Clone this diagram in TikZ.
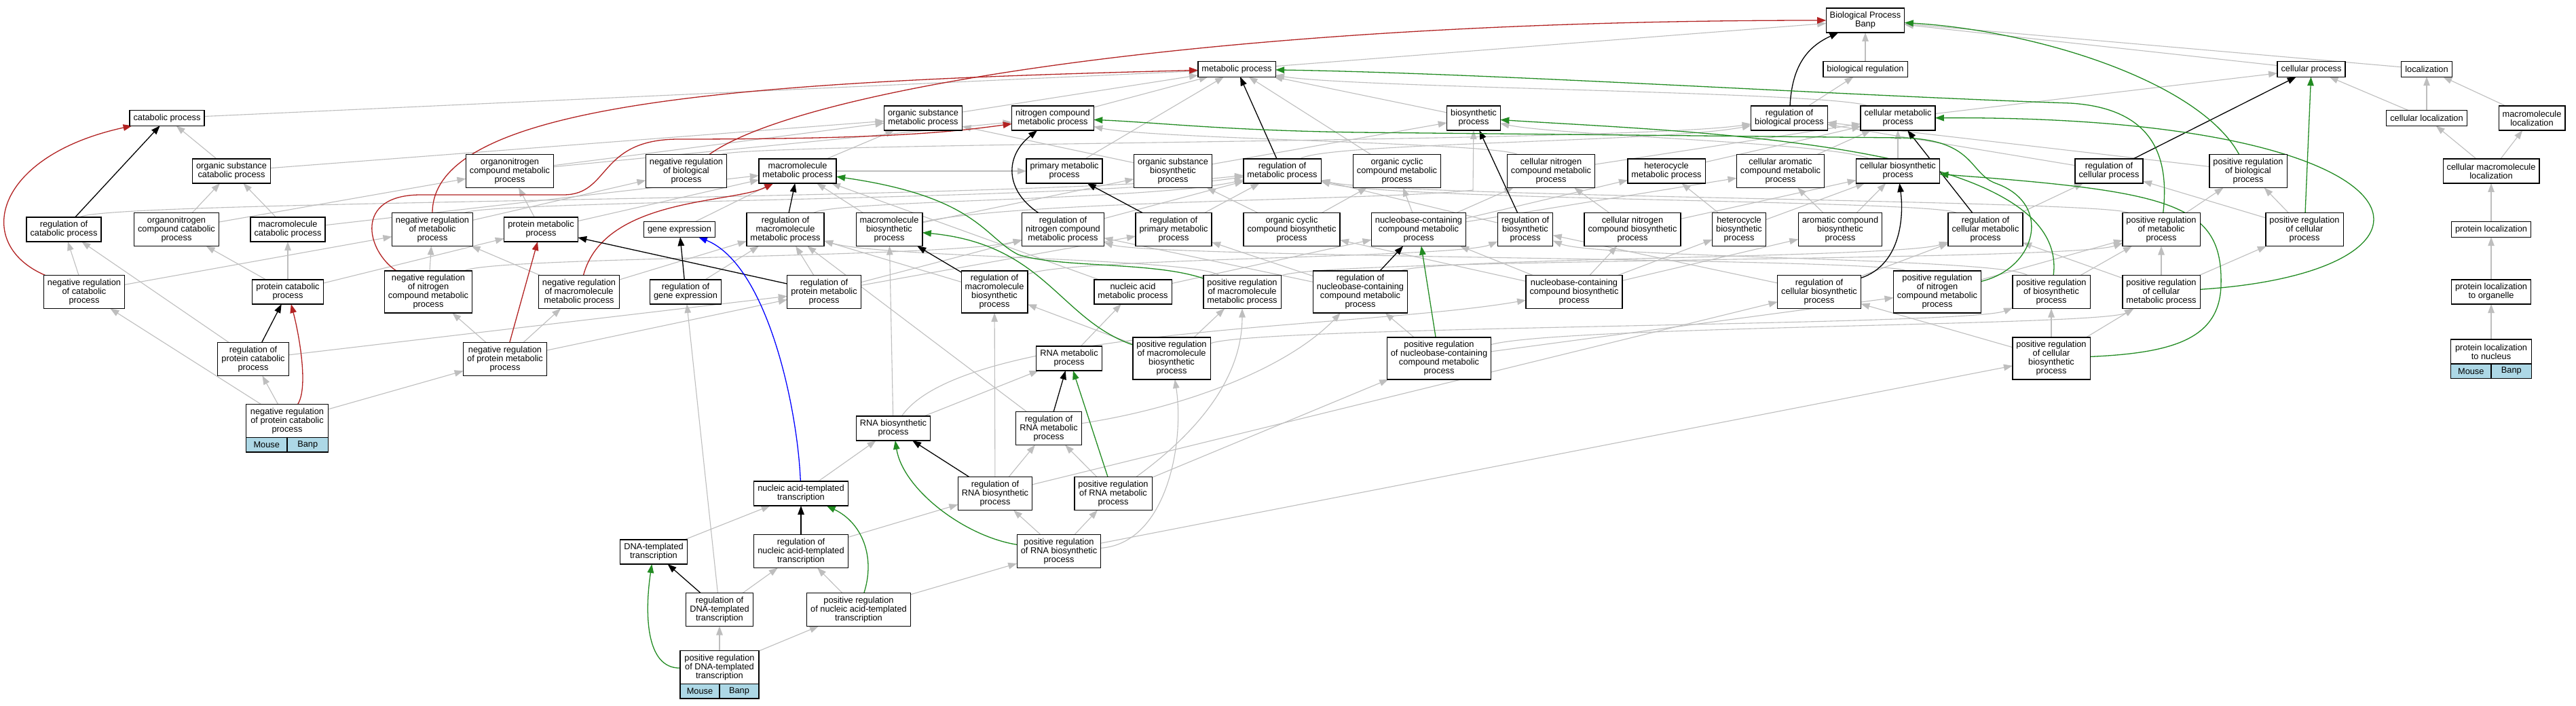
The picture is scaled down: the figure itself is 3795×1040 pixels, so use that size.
\documentclass[tikz,border=0pt]{standalone}
\usepackage{fontspec}
\setmainfont{Liberation Sans}
\usetikzlibrary{arrows.meta,backgrounds}
\definecolor{edgegray}{RGB}{190,190,190}
\definecolor{negred}{RGB}{178,34,34}
\definecolor{posgreen}{RGB}{34,139,34}
\definecolor{tagblue}{RGB}{173,216,230}
\tikzset{
  term/.style={draw, fill=white, line width=1.2pt, align=center, inner xsep=5.5pt, inner ysep=1pt, outer sep=0pt, font=\fontsize{12.8}{13}\selectfont},
  h1/.style={term, minimum height=22.5pt},
  h2/.style={term, minimum height=36pt},
  h3/.style={term, minimum height=49pt},
  h4/.style={term, minimum height=62pt},
  tag/.style={draw, fill=tagblue, line width=1.2pt, minimum height=21.5pt, inner sep=0pt, outer sep=0pt, font=\fontsize{12.8}{13}\selectfont},
  isa/.style={draw=edgegray, line width=1.1pt, -{Triangle[length=13pt,width=9.5pt]}},
  reg/.style={isa, draw=black, line width=1.3pt},
  negreg/.style={reg, draw=negred},
  posreg/.style={reg, draw=posgreen},
  partof/.style={reg, draw=blue}
}
\begin{document}
\begin{tikzpicture}[x=1pt,y=-1pt]
\useasboundingbox (0,0) rectangle (3795,1040);

\node[h2] (bp) at (2748,30) {Biological Process\\Banp};

\node[h1] (metabolic) at (1822,102) {metabolic process};
\node[h1] (bioreg) at (2748,102) {biological regulation};
\node[h1] (cellproc) at (3405,102) {cellular process};
\node[h1] (loc) at (3575,102) {localization};

\node[h1] (catab) at (246,174) {catabolic process};
\node[h2] (orgsubmet) at (1360,174) {organic substance\\metabolic process};
\node[h2] (nitmet) at (1551,174) {nitrogen compound\\metabolic process};
\node[h2] (biosyn) at (2171,174) {biosynthetic\\process};
\node[h2] (regbio) at (2636,174) {regulation of\\biological process};
\node[h2] (cellmet) at (2796,174) {cellular metabolic\\process};
\node[h1] (cellloc) at (3575,174) {cellular localization};
\node[h2] (macroloc) at (3730,174) {macromolecule\\localization};

\node[h2] (orgsubcat) at (341,252) {organic substance\\catabolic process};
\node[h3] (orgnitmet) at (751,252) {organonitrogen\\compound metabolic\\process};
\node[h3] (negregbio) at (1011,252) {negative regulation\\of biological\\process};
\node[h2] (macromet) at (1175,252) {macromolecule\\metabolic process};
\node[h2] (primmet) at (1568,252) {primary metabolic\\process};
\node[h3] (orgsubbio) at (1728,252) {organic substance\\biosynthetic\\process};
\node[h2] (regmet) at (1889,252) {regulation of\\metabolic process};
\node[h3] (orgcycmet) at (2058,252) {organic cyclic\\compound metabolic\\process};
\node[h3] (cellnitmet) at (2285,252) {cellular nitrogen\\compound metabolic\\process};
\node[h2] (hetmet) at (2455,252) {heterocycle\\metabolic process};
\node[h3] (cellarommet) at (2623,252) {cellular aromatic\\compound metabolic\\process};
\node[h2] (cellbio) at (2796,252) {cellular biosynthetic\\process};
\node[h2] (regcell) at (3107,252) {regulation of\\cellular process};
\node[h3] (posregbio) at (3312,252) {positive regulation\\of biological\\process};
\node[h2] (cellmacroloc) at (3670,252) {cellular macromolecule\\localization};

\node[h2] (regcatab) at (94,338) {regulation of\\catabolic process};
\node[h3] (orgnitcat) at (260,338) {organonitrogen\\compound catabolic\\process};
\node[h2] (macrocat) at (424,338) {macromolecule\\catabolic process};
\node[h3] (negregmet) at (637,338) {negative regulation\\of metabolic\\process};
\node[h2] (protmet) at (797,338) {protein metabolic\\process};
\node[h1] (geneexp) at (1001,338) {gene expression};
\node[h3] (regmacromet) at (1157,338) {regulation of\\macromolecule\\metabolic process};
\node[h3] (macrobio) at (1310,338) {macromolecule\\biosynthetic\\process};
\node[h3] (regnitmet) at (1566,338) {regulation of\\nitrogen compound\\metabolic process};
\node[h3] (regprimmet) at (1729,338) {regulation of\\primary metabolic\\process};
\node[h3] (orgcycbio) at (1903,338) {organic cyclic\\compound biosynthetic\\process};
\node[h3] (nucmet) at (2090,338) {nucleobase-containing\\compound metabolic\\process};
\node[h3] (regbiosyn) at (2247,338) {regulation of\\biosynthetic\\process};
\node[h3] (cellnitbio) at (2405,338) {cellular nitrogen\\compound biosynthetic\\process};
\node[h3] (hetbio) at (2562,338) {heterocycle\\biosynthetic\\process};
\node[h3] (arombio) at (2711,338) {aromatic compound\\biosynthetic\\process};
\node[h3] (regcellmet) at (2925,338) {regulation of\\cellular metabolic\\process};
\node[h3] (posregmet) at (3184,338) {positive regulation\\of metabolic\\process};
\node[h3] (posregcell) at (3395,338) {positive regulation\\of cellular\\process};
\node[h1] (protloc) at (3670,338) {protein localization};

\node[h3] (negregcatab) at (124,430) {negative regulation\\of catabolic\\process};
\node[h2] (protcat) at (424,430) {protein catabolic\\process};
\node[h4] (negregnitmet) at (631,430) {negative regulation\\of nitrogen\\compound metabolic\\process};
\node[h3] (negregmacromet) at (853,430) {negative regulation\\of macromolecule\\metabolic process};
\node[h2] (reggeneexp) at (1010,430) {regulation of\\gene expression};
\node[h3] (regprotmet) at (1214,430) {regulation of\\protein metabolic\\process};
\node[h4] (regmacrobio) at (1465,430) {regulation of\\macromolecule\\biosynthetic\\process};
\node[h2] (nucacidmet) at (1669,430) {nucleic acid\\metabolic process};
\node[h3] (posregmacromet) at (1830,430) {positive regulation\\of macromolecule\\metabolic process};
\node[h4] (regnucmet) at (2004,430) {regulation of\\nucleobase-containing\\compound metabolic\\process};
\node[h3] (nucbio) at (2319,430) {nucleobase-containing\\compound biosynthetic\\process};
\node[h3] (regcellbio) at (2680,430) {regulation of\\cellular biosynthetic\\process};
\node[h4] (posregnitmet) at (2854,430) {positive regulation\\of nitrogen\\compound metabolic\\process};
\node[h3] (posregbiosyn) at (3022,430) {positive regulation\\of biosynthetic\\process};
\node[h3] (posregcellmet) at (3184,430) {positive regulation\\of cellular\\metabolic process};
\node[h2] (protlocorg) at (3670,430) {protein localization\\to organelle};

\node[h3] (regprotcat) at (373,529) {regulation of\\protein catabolic\\process};
\node[h3] (negregprotmet) at (744,529) {negative regulation\\of protein metabolic\\process};
\node[h2] (rnamet) at (1575,528) {RNA metabolic\\process};
\node[h4] (posregmacrobio) at (1726,528) {positive regulation\\of macromolecule\\biosynthetic\\process};
\node[h4] (posregnucmet) at (2120,528) {positive regulation\\of nucleobase-containing\\compound metabolic\\process};
\node[h4] (posregcellbio) at (3022,528) {positive regulation\\of cellular\\biosynthetic\\process};
\node[h2, minimum width=119pt] (protlocnuc) at (3670,518) {protein localization\\to nucleus};
\node[tag, minimum width=59.5pt, anchor=north west] (protlocnuc-mouse) at (protlocnuc.south west) {Mouse};
\node[tag, minimum width=59.5pt, anchor=north east] (protlocnuc-banp) at (protlocnuc.south east) {Banp};

\node[h3, minimum width=121pt] (negregprotcat) at (423,620) {negative regulation\\of protein catabolic\\process};
\node[tag, minimum width=60.5pt, anchor=north west] (negregprotcat-mouse) at (negregprotcat.south west) {Mouse};
\node[tag, minimum width=60.5pt, anchor=north east] (negregprotcat-banp) at (negregprotcat.south east) {Banp};
\node[h2] (rnabio) at (1316,631) {RNA biosynthetic\\process};
\node[h3] (regrnamet) at (1545,631) {regulation of\\RNA metabolic\\process};

\node[h2] (nuctrans) at (1180,727) {nucleic acid-templated\\transcription};
\node[h3] (regrnabio) at (1466,727) {regulation of\\RNA biosynthetic\\process};
\node[h3] (posregrnamet) at (1640,727) {positive regulation\\of RNA metabolic\\process};

\node[h2] (dnatrans) at (963,813) {DNA-templated\\transcription};
\node[h3] (regnuctrans) at (1180,812) {regulation of\\nucleic acid-templated\\transcription};
\node[h3] (posregrnabio) at (1560,812) {positive regulation\\of RNA biosynthetic\\process};

\node[h3] (regdnatrans) at (1060,898) {regulation of\\DNA-templated\\transcription};
\node[h3] (posregnuctrans) at (1265,898) {positive regulation\\of nucleic acid-templated\\transcription};

\node[h3, minimum width=116pt] (posregdnatrans) at (1060,983) {positive regulation\\of DNA-templated\\transcription};
\node[tag, minimum width=58pt, anchor=north west] (posregdnatrans-mouse) at (posregdnatrans.south west) {Mouse};
\node[tag, minimum width=58pt, anchor=north east] (posregdnatrans-banp) at (posregdnatrans.south east) {Banp};

\begin{pgfonlayer}{background}
\fill[white] (0,0) rectangle (3795,1040);

\draw[isa] (bioreg) -- (bp);
\draw[isa] (metabolic) -- (bp);
\draw[isa] (cellproc) -- (bp);
\draw[isa] (loc) -- (bp);
\draw[isa] (catab) -- (metabolic);
\draw[isa] (orgsubmet) -- (metabolic);
\draw[isa] (nitmet) -- (metabolic);
\draw[isa] (biosyn) -- (metabolic);
\draw[isa] (cellmet) .. controls (2700,135) and (2000,130) .. (metabolic);
\draw[isa] (cellmet) -- (cellproc);
\draw[isa] (regbio) -- (bioreg);
\draw[isa] (cellloc) -- (cellproc);
\draw[isa] (cellloc) -- (loc);
\draw[isa] (macroloc) -- (loc);
\draw[isa] (orgsubcat) -- (catab);
\draw[isa] (orgsubcat) -- (orgsubmet);
\draw[isa] (orgnitmet) -- (orgsubmet);
\draw[isa] (orgnitmet) -- (nitmet);
\draw[isa] (negregbio) .. controls (1100,210) and (2400,210) .. (regbio);
\draw[isa] (macromet) -- (orgsubmet);
\draw[isa] (macromet) -- (primmet);
\draw[isa] (primmet) -- (metabolic);
\draw[isa] (orgsubbio) -- (orgsubmet);
\draw[isa] (orgsubbio) -- (biosyn);
\draw[isa] (regmet) .. controls (1950,210) and (2450,210) .. (regbio);
\draw[isa] (orgcycmet) -- (metabolic);
\draw[isa] (cellnitmet) .. controls (2200,210) and (1700,205) .. (nitmet);
\draw[isa] (cellnitmet) -- (cellmet);
\draw[isa] (hetmet) -- (cellmet);
\draw[isa] (cellarommet) -- (cellmet);
\draw[isa] (cellbio) -- (cellmet);
\draw[isa] (cellbio) .. controls (2700,210) and (2300,200) .. (biosyn);
\draw[isa] (regcell) -- (regbio);
\draw[isa] (posregbio) -- (regbio);
\draw[isa] (cellmacroloc) -- (cellloc);
\draw[isa] (cellmacroloc) -- (macroloc);

\draw[isa] (regcatab) .. controls (150,295) and (1500,295) .. (regmet);
\draw[isa] (orgnitcat) -- (orgsubcat);
\draw[isa] (orgnitcat) -- (orgnitmet);
\draw[isa] (macrocat) -- (orgsubcat);
\draw[isa] (macrocat) -- (macromet);
\draw[isa] (negregmet) .. controls (720,295) and (1600,295) .. (regmet);
\draw[isa] (negregmet) -- (negregbio);
\draw[isa] (protmet) -- (orgnitmet);
\draw[isa] (protmet) -- (macromet);
\draw[isa] (geneexp) -- (macromet);
\draw[isa] (regmacromet) .. controls (1230,295) and (1700,295) .. (regmet);
\draw[isa] (macrobio) -- (macromet);
\draw[isa] (macrobio) .. controls (1500,295) and (2050,295) .. (2170,280) -- (biosyn);
\draw[isa] (macrobio) -- (orgsubbio);
\draw[isa] (regnitmet) -- (regmet);
\draw[isa] (regprimmet) -- (regmet);
\draw[isa] (orgcycbio) -- (orgsubbio);
\draw[isa] (orgcycbio) -- (orgcycmet);
\draw[isa] (nucmet) -- (orgcycmet);
\draw[isa] (nucmet) -- (cellnitmet);
\draw[isa] (nucmet) -- (hetmet);
\draw[isa] (nucmet) -- (cellarommet);
\draw[isa] (regbiosyn) -- (regmet);
\draw[isa] (cellnitbio) -- (cellnitmet);
\draw[isa] (cellnitbio) -- (cellbio);
\draw[isa] (hetbio) -- (hetmet);
\draw[isa] (hetbio) -- (cellbio);
\draw[isa] (arombio) -- (cellarommet);
\draw[isa] (arombio) -- (cellbio);
\draw[isa] (regcellmet) .. controls (2850,295) and (2050,295) .. (regmet);
\draw[isa] (regcellmet) -- (regcell);
\draw[isa] (posregmet) .. controls (3100,295) and (2050,290) .. (regmet);
\draw[isa] (posregmet) -- (posregbio);
\draw[isa] (posregcell) -- (posregbio);
\draw[isa] (posregcell) -- (regcell);
\draw[isa] (protloc) -- (cellmacroloc);

\draw[isa] (negregcatab) -- (regcatab);
\draw[isa] (negregcatab) -- (negregmet);
\draw[isa] (protcat) -- (orgnitcat);
\draw[isa] (protcat) -- (macrocat);
\draw[isa] (protcat) -- (protmet);
\draw[isa] (negregnitmet) -- (negregmet);
\draw[isa] (negregnitmet) .. controls (720,378) and (1400,380) .. (regnitmet);
\draw[isa] (negregmacromet) -- (negregmet);
\draw[isa] (negregmacromet) -- (regmacromet);
\draw[isa] (reggeneexp) -- (regmacromet);
\draw[isa] (regprotmet) -- (regmacromet);
\draw[isa] (regprotmet) -- (regnitmet);
\draw[isa] (regprotmet) -- (regprimmet);
\draw[isa] (regmacrobio) -- (regmacromet);
\draw[isa] (regmacrobio) .. controls (1560,380) and (2150,380) .. (regbiosyn);
\draw[isa] (nucacidmet) -- (macromet);
\draw[isa] (nucacidmet) -- (nucmet);
\draw[isa] (posregmacromet) .. controls (1760,380) and (1300,380) .. (regmacromet);
\draw[isa] (posregmacromet) .. controls (1950,380) and (3050,385) .. (posregmet);
\draw[isa] (regnucmet) -- (regprimmet);
\draw[isa] (regnucmet) -- (regnitmet);
\draw[isa] (regnucmet) .. controls (2100,380) and (2800,380) .. (regcellmet);
\draw[isa] (nucbio) -- (nucmet);
\draw[isa] (nucbio) -- (cellnitbio);
\draw[isa] (nucbio) -- (hetbio);
\draw[isa] (nucbio) -- (arombio);
\draw[isa] (nucbio) -- (orgcycbio);
\draw[isa] (regcellbio) -- (regbiosyn);
\draw[isa] (regcellbio) -- (regcellmet);
\draw[isa] (posregnitmet) .. controls (2780,380) and (1700,380) .. (regnitmet);
\draw[isa] (posregnitmet) -- (posregmet);
\draw[isa] (posregbiosyn) .. controls (2950,380) and (2350,380) .. (regbiosyn);
\draw[isa] (posregbiosyn) -- (posregmet);
\draw[isa] (posregcellmet) -- (posregmet);
\draw[isa] (posregcellmet) -- (posregcell);
\draw[isa] (posregcellmet) -- (regcellmet);
\draw[isa] (protlocorg) -- (protloc);

\draw[isa] (regprotcat) -- (regcatab);
\draw[isa] (regprotcat) -- (regprotmet);
\draw[isa] (negregprotmet) -- (negregnitmet);
\draw[isa] (negregprotmet) -- (negregmacromet);
\draw[isa] (negregprotmet) -- (regprotmet);
\draw[isa] (rnamet) -- (nucacidmet);
\draw[isa] (posregmacrobio) -- (regmacrobio);
\draw[isa] (posregmacrobio) -- (posregmacromet);
\draw[isa] (posregmacrobio) .. controls (1850,480) and (2900,480) .. (posregbiosyn);
\draw[isa] (posregnucmet) -- (regnucmet);
\draw[isa] (posregnucmet) -- (posregnitmet);
\draw[isa] (posregnucmet) .. controls (2300,480) and (3100,480) .. (posregcellmet);
\draw[isa] (posregcellbio) -- (posregbiosyn);
\draw[isa] (posregcellbio) -- (regcellbio);
\draw[isa] (posregcellbio) -- (posregcellmet);
\draw[isa] (protlocnuc) -- (protlocorg);
\draw[isa] (negregprotcat) -- (regprotcat);
\draw[isa] (negregprotcat) -- (negregcatab);
\draw[isa] (negregprotcat) -- (negregprotmet);
\draw[isa] (rnabio) -- (rnamet);
\draw[isa] (rnabio) -- (macrobio);
\draw[isa] (rnabio) .. controls (1420,480) and (2000,485) .. (nucbio);
\draw[isa] (regrnamet) .. controls (1750,600) and (1900,540) .. (regnucmet);
\draw[isa] (regrnamet) -- (regmacromet);
\draw[isa] (nuctrans) -- (rnabio);
\draw[isa] (regrnabio) -- (regrnamet);
\draw[isa] (regrnabio) -- (regmacrobio);
\draw[isa] (regrnabio) -- (regcellbio);
\draw[isa] (posregrnamet) -- (regrnamet);
\draw[isa] (posregrnamet) .. controls (1760,640) and (1830,560) .. (posregmacromet);
\draw[isa] (posregrnamet) -- (posregnucmet);
\draw[isa] (dnatrans) -- (nuctrans);
\draw[isa] (regnuctrans) -- (regrnabio);
\draw[isa] (posregrnabio) -- (regrnabio);
\draw[isa] (posregrnabio) -- (posregrnamet);
\draw[isa] (posregrnabio) .. controls (1720,800) and (1745,650) .. (posregmacrobio);
\draw[isa] (posregrnabio) -- (posregcellbio);
\draw[isa] (regdnatrans) -- (regnuctrans);
\draw[isa] (regdnatrans) -- (reggeneexp);
\draw[isa] (posregnuctrans) -- (regnuctrans);
\draw[isa] (posregnuctrans) -- (posregrnabio);
\draw[isa] (posregdnatrans) -- (regdnatrans);
\draw[isa] (posregdnatrans) -- (posregnuctrans);

\draw[negreg] (negregcatab) .. controls (-40,360) and (-10,230) .. (catab);
\draw[negreg] (negregprotcat) .. controls (455,570) and (440,490) .. (protcat);
\draw[negreg] (negregmet) .. controls (637,150) and (1100,120) .. (metabolic);
\draw[negreg] (negregbio) .. controls (1180,130) and (1800,30) .. (bp);
\draw[negreg] (negregnitmet) .. controls (540,370) and (520,287) .. (620,287) -- (830,287) .. controls (900,287) and (880,205) .. (1000,205) .. controls (1300,205) and (1400,195) .. (nitmet);
\draw[negreg] (negregmacromet) .. controls (890,290) and (1080,300) .. (macromet);
\draw[negreg] (negregprotmet) -- (protmet);

\draw[reg] (regcatab) -- (catab);
\draw[reg] (regprotcat) -- (protcat);
\draw[reg] (regmacromet) -- (macromet);
\draw[reg] (reggeneexp) -- (geneexp);
\draw[reg] (regprotmet) -- (protmet);
\draw[reg] (regnitmet) .. controls (1480,280) and (1480,230) .. (nitmet);
\draw[reg] (regprimmet) -- (primmet);
\draw[reg] (regmacrobio) -- (macrobio);
\draw[reg] (regmet) -- (metabolic);
\draw[reg] (regbiosyn) -- (biosyn);
\draw[reg] (regnucmet) -- (nucmet);
\draw[reg] (regbio) .. controls (2640,100) and (2660,70) .. (bp);
\draw[reg] (regcellmet) -- (cellmet);
\draw[reg] (regcellbio) .. controls (2800,390) and (2805,320) .. (cellbio);
\draw[reg] (regcell) -- (cellproc);
\draw[reg] (regrnamet) -- (rnamet);
\draw[reg] (regrnabio) -- (rnabio);
\draw[reg] (regnuctrans) -- (nuctrans);
\draw[reg] (regdnatrans) -- (dnatrans);

\draw[posreg] (posregdnatrans) .. controls (950,985) and (950,900) .. (dnatrans);
\draw[posreg] (posregnuctrans) .. controls (1290,820) and (1270,770) .. (nuctrans);
\draw[posreg] (posregrnabio) .. controls (1420,790) and (1330,720) .. (rnabio);
\draw[posreg] (posregrnamet) -- (rnamet);
\draw[posreg] (posregmacrobio) .. controls (1560,470) and (1540,360) .. (macrobio);
\draw[posreg] (posregmacromet) .. controls (1700,385) and (1560,395) .. (1500,375) .. controls (1450,350) and (1440,290) .. (macromet);
\draw[posreg] (posregnucmet) -- (nucmet);
\draw[posreg] (posregnitmet) .. controls (3000,395) and (3025,300) .. (2940,270) .. controls (2900,255) and (2910,205) .. (2800,203) -- (2000,195) .. controls (1800,192) and (1700,180) .. (nitmet);
\draw[posreg] (posregbiosyn) .. controls (3050,210) and (2500,195) .. (biosyn);
\draw[posreg] (posregmet) .. controls (3195,240) and (3180,160) .. (3050,152) .. controls (2700,140) and (2200,108) .. (metabolic);
\draw[posreg] (posregbio) .. controls (3240,120) and (3000,45) .. (bp);
\draw[posreg] (posregcellmet) .. controls (3650,400) and (3600,170) .. (cellmet);
\draw[posreg] (posregcellbio) .. controls (3200,520) and (3270,500) .. (3272,420) .. controls (3275,300) and (3200,282) .. (cellbio);
\draw[posreg] (posregcell) -- (cellproc);

\draw[partof] (nuctrans) .. controls (1175,600) and (1130,390) .. (geneexp);
\end{pgfonlayer}
\end{tikzpicture}
\end{document}
